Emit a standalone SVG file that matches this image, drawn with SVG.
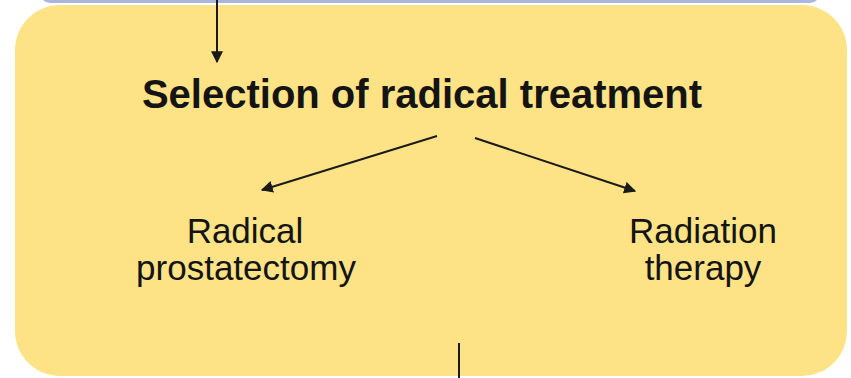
<svg xmlns="http://www.w3.org/2000/svg" width="851" height="378" viewBox="0 0 851 378">
<defs>
<style>
.t{font-family:"Liberation Sans",Arial,sans-serif;fill:#141414;text-anchor:middle}
.b{font-weight:bold;font-size:40px}
.n{font-size:35px}
.c{stroke:#1a1a1a;stroke-width:2;fill:none}
</style>
<marker id="ah2" viewBox="0 0 10 10" refX="9" refY="5" markerWidth="12" markerHeight="12" orient="auto" markerUnits="userSpaceOnUse">
<path d="M0,0 L10,5 L0,10 z" fill="#1a1a1a"/>
</marker>
</defs>
<rect width="851" height="378" fill="#ffffff"/>
<g id="upper-box"><rect x="40" y="-20" width="780" height="23" rx="10" fill="#aab6dc"/></g>
<g id="panel"><rect x="15" y="5" width="832" height="371" rx="45" fill="#fde386"/></g>
<g id="title"><text class="t b" x="422" y="108">Selection of radical treatment</text></g>
<g id="prostatectomy"><text class="t n" x="245" y="243">Radical</text><text class="t n" x="246" y="280">prostatectomy</text></g>
<g id="radiation"><text class="t n" x="703" y="243">Radiation</text><text class="t n" x="703" y="280">therapy</text></g>
<g id="connectors">
<line class="c" x1="217" y1="0" x2="217" y2="62" marker-end="url(#ah2)"/>
<line class="c" x1="437" y1="136" x2="262" y2="190" marker-end="url(#ah2)"/>
<line class="c" x1="475" y1="138" x2="635" y2="191" marker-end="url(#ah2)"/>
<line class="c" x1="459" y1="343" x2="459" y2="378"/>
</g>
</svg>
